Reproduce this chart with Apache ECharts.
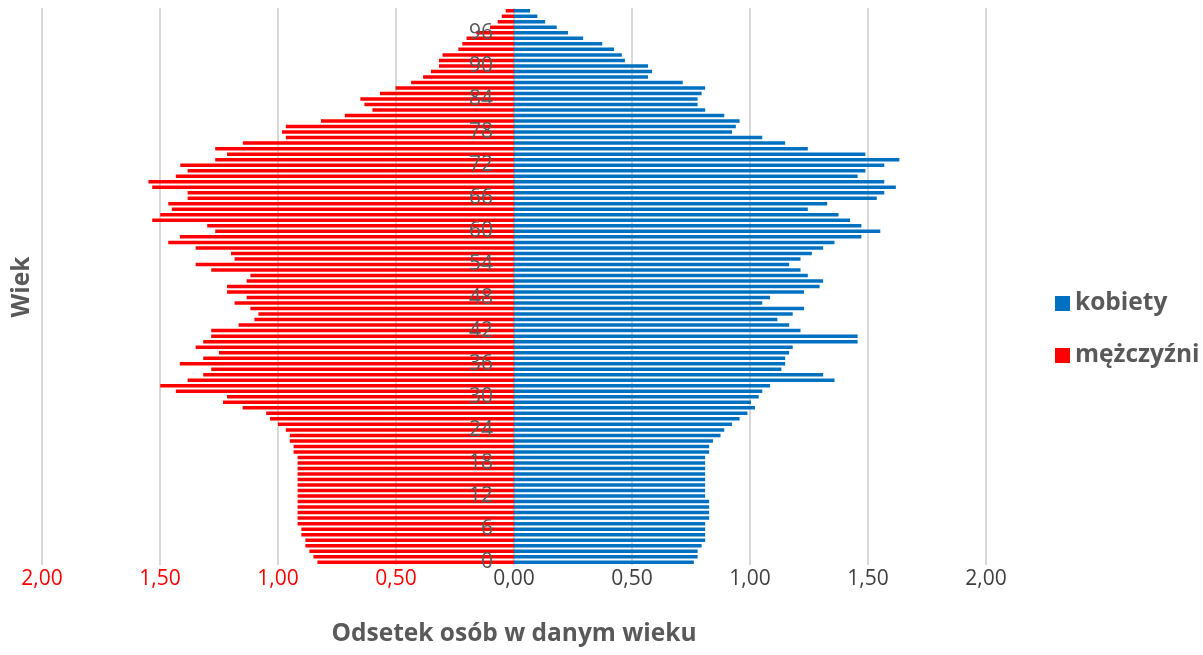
<!DOCTYPE html>
<html>
<head>
<meta charset="utf-8">
<script src="https://cdn.jsdelivr.net/npm/echarts@6/dist/echarts.min.js"></script>
<style>
  html, body { margin: 0; padding: 0; background: #fff; }
  #chart { width: 1203px; height: 655px; }
</style>
</head>
<body>
<div id="chart"></div>
<script>
// wiek 0..100
var ages = [];
for (var a = 0; a <= 100; a++) ages.push(String(a));

// odsetek kobiet w danym wieku (0..100)
var kobiety = [
  0.762, 0.778, 0.778, 0.795, 0.810, 0.810, 0.810, 0.810, 0.827, 0.827,
  0.827, 0.827, 0.810, 0.810, 0.810, 0.810, 0.810, 0.810, 0.810, 0.810,
  0.827, 0.827, 0.843, 0.875, 0.891, 0.924, 0.956, 0.989, 1.021, 1.004,
  1.037, 1.052, 1.085, 1.358, 1.310, 1.133, 1.149, 1.149, 1.166, 1.181,
  1.456, 1.456, 1.214, 1.166, 1.116, 1.181, 1.229, 1.052, 1.085, 1.229,
  1.295, 1.310, 1.245, 1.214, 1.166, 1.214, 1.262, 1.310, 1.358, 1.472,
  1.552, 1.472, 1.424, 1.375, 1.245, 1.327, 1.537, 1.569, 1.618, 1.569,
  1.456, 1.489, 1.569, 1.633, 1.489, 1.245, 1.149, 1.052, 0.924, 0.940,
  0.956, 0.891, 0.810, 0.778, 0.778, 0.795, 0.810, 0.715, 0.568, 0.585,
  0.568, 0.470, 0.457, 0.424, 0.374, 0.293, 0.229, 0.181, 0.132, 0.099,
  0.068
];

// odsetek mężczyzn w danym wieku (0..100)
var mezczyzni = [
  0.833, 0.850, 0.867, 0.884, 0.884, 0.901, 0.901, 0.917, 0.917, 0.917,
  0.917, 0.917, 0.917, 0.917, 0.917, 0.917, 0.917, 0.917, 0.917, 0.917,
  0.934, 0.934, 0.950, 0.950, 0.967, 1.000, 1.034, 1.050, 1.150, 1.233,
  1.216, 1.433, 1.499, 1.383, 1.317, 1.283, 1.416, 1.317, 1.250, 1.349,
  1.317, 1.283, 1.283, 1.167, 1.100, 1.083, 1.117, 1.184, 1.133, 1.216,
  1.216, 1.133, 1.117, 1.283, 1.349, 1.184, 1.199, 1.349, 1.465, 1.416,
  1.266, 1.300, 1.533, 1.499, 1.450, 1.465, 1.383, 1.383, 1.533, 1.549,
  1.433, 1.383, 1.414, 1.266, 1.216, 1.266, 1.149, 0.967, 0.983, 0.967,
  0.818, 0.717, 0.600, 0.634, 0.651, 0.568, 0.502, 0.436, 0.385, 0.352,
  0.318, 0.318, 0.303, 0.236, 0.219, 0.201, 0.160, 0.102, 0.069, 0.052,
  0.035
];

var chart = echarts.init(document.getElementById('chart'));
var fontFam = 'Open Sans, Liberation Sans, sans-serif';

chart.setOption({
  animation: false,
  textStyle: { fontFamily: fontFam },
  grid: { left: 42, right: 217, top: 8, bottom: 90, containLabel: false },
  legend: {
    orient: 'vertical',
    left: 1050,
    top: 286,
    itemWidth: 15,
    itemHeight: 15,
    itemGap: 27,
    icon: 'rect',
    data: ['kobiety', 'mężczyźni'],
    textStyle: { fontSize: 24.5, fontWeight: 'bold', color: '#595959', fontFamily: fontFam }
  },
  xAxis: {
    type: 'value',
    min: -2,
    max: 2,
    interval: 0.5,
    name: 'Odsetek osób w danym wieku',
    nameLocation: 'middle',
    nameGap: 57,
    nameTextStyle: { fontSize: 24.5, fontWeight: 'bold', color: '#595959' },
    axisLine: { show: false },
    axisTick: { show: false },
    axisLabel: {
      fontSize: 21,
      margin: 4,
      color: function (v) { return Number(v) < 0 ? '#FF0000' : '#404040'; },
      formatter: function (v) { return Math.abs(v).toFixed(2).replace('.', ','); }
    },
    splitLine: { lineStyle: { color: '#d9d9d9', width: 2 } }
  },
  yAxis: {
    type: 'category',
    data: ages,
    position: 'left',
    offset: -472,   // oś wieku w środku, na wartości 0
    axisLine: { show: false },
    axisTick: { show: false },
    axisLabel: { interval: 5, fontSize: 21, color: '#595959', margin: 21 },
    zlevel: 1
  },
  graphic: [{
    type: 'text',
    x: 22, y: 287,
    rotation: Math.PI / 2,
    style: { text: 'Wiek', fontSize: 24.5, fontWeight: 'bold', fill: '#595959', fontFamily: fontFam,
             align: 'center', verticalAlign: 'middle' }
  }],
  series: [
    {
      name: 'kobiety',
      type: 'bar',
      data: kobiety,
      barWidth: 3.5,
      barGap: '-100%',
      itemStyle: { color: '#0070C0' }
    },
    {
      name: 'mężczyźni',
      type: 'bar',
      data: mezczyzni.map(function (v) { return -v; }),
      barWidth: 3.5,
      itemStyle: { color: '#FF0000' }
    }
  ]
});
</script>
</body>
</html>
